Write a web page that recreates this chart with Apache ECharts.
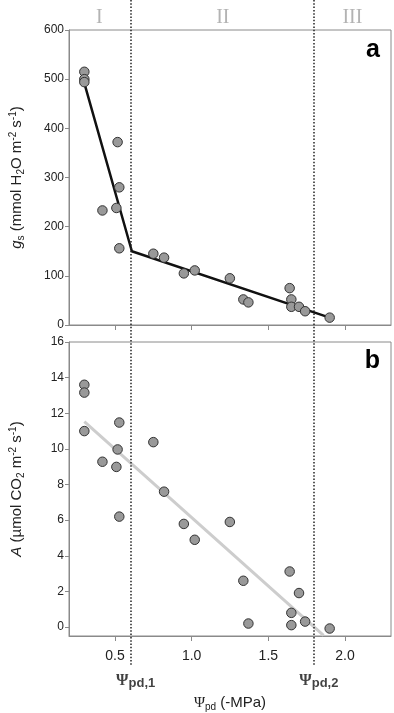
<!DOCTYPE html>
<html><head><meta charset="utf-8">
<script src="https://cdn.jsdelivr.net/npm/echarts@6/dist/echarts.min.js"></script>
<style>html,body{margin:0;padding:0;background:#fff}#c{width:394px;height:713px}</style>
</head><body><div id="c"></div>
<script>
// predawn water potential (-MPa)
const psi = [0.30,0.30,0.30,0.418,0.509,0.517,0.528,0.528,0.75,0.82,0.949,1.02,1.249,1.337,1.37,1.639,1.65,1.65,1.70,1.74,1.90];
// stomatal conductance gs (mmol H2O m-2 s-1)
const gs  = [515,500,494,233,238,372,280,156,145,137,105,111,95,52,46,75,52,37,37,28,15];
// net assimilation A (umol CO2 m-2 s-1)
const A   = [13.6,13.16,11.0,9.28,8.99,9.97,11.48,6.2,10.38,7.6,5.79,4.9,5.9,2.6,0.2,3.12,0.8,0.11,1.91,0.31,-0.08];
// piecewise fit for gs
const gsFitX = [0.30, 0.61, 1.90];
const gsFitY = [492, 150, 15];
// linear fit for A
const aFitX = [0.30, 1.86];
const aFitY = [11.53, -0.47];
// thresholds Psi_pd,1 and Psi_pd,2
const thresholds = [0.613, 1.80];
const thresholdNames = ['1', '2'];
// phases
const phaseLabels = ['I', 'II', 'III'];
const phaseCenters = [0.41, 1.21, 2.05];
// ticks
const xTicks = [0.5, 1.0, 1.5, 2.0];
const gsTicks = [0, 100, 200, 300, 400, 500, 600];
const aTicks = [0, 2, 4, 6, 8, 10, 12, 14, 16];

const GRAY = '#8a8a8a';
const FONT = '"Liberation Sans", Arial, sans-serif';
const SERIF = '"Liberation Serif", "Times New Roman", serif';

const chart = echarts.init(document.getElementById('c'), null, {renderer: 'canvas'});

function xAxisCfg(grid, showLabels) {
  return {
    type: 'value', gridIndex: grid, min: 0.2, max: 2.3,
    axisLine: {show: true, onZero: false, lineStyle: {color: GRAY, width: 1}},
    axisTick: {show: true, length: 5, inside: false, customValues: xTicks, lineStyle: {color: GRAY}},
    axisLabel: {show: showLabels, customValues: xTicks, color: '#222', fontSize: 14, fontFamily: FONT, margin: 13,
      formatter: v => v.toFixed(1)},
    splitLine: {show: false}
  };
}
const richBase = {
  n: {fontSize: 15, fontFamily: FONT, color: '#222', lineHeight: 18},
  i: {fontSize: 15, fontFamily: FONT, color: '#222', fontStyle: 'italic', lineHeight: 18},
  sub: {fontSize: 10, fontFamily: FONT, color: '#222', verticalAlign: 'bottom', lineHeight: 10},
  sup: {fontSize: 10, fontFamily: FONT, color: '#222', verticalAlign: 'top', lineHeight: 10}
};

const pairs = (xs, ys) => xs.map((x, k) => [x, ys[k]]);

const option = {
  animation: false,
  backgroundColor: '#fff',
  grid: [
    {left: 67, right: 3, top: 30, height: 295, show: true, borderColor: GRAY, borderWidth: 1, containLabel: false},
    {left: 67, right: 3, top: 342, height: 295, show: true, borderColor: GRAY, borderWidth: 1, containLabel: false},
    {left: 67, right: 3, top: 0, bottom: 0, show: false}
  ],
  xAxis: [
    xAxisCfg(0, false),
    Object.assign(xAxisCfg(1, true), {
      name: '{psi|Ψ}{sub|pd}{n| (-MPa)}', nameLocation: 'middle', nameGap: 58,
      nameTextStyle: {rich: Object.assign({}, richBase, {psi: {fontSize: 15, fontFamily: SERIF, color: '#222', lineHeight: 18}})}
    }),
    {type: 'value', gridIndex: 2, min: 0.2, max: 2.3, show: false}
  ],
  yAxis: [
    {
      type: 'value', gridIndex: 0, min: 0, max: 600, interval: 100,
      axisLine: {show: true, lineStyle: {color: GRAY}},
      axisTick: {show: true, length: 4, lineStyle: {color: GRAY}},
      axisLabel: {color: '#222', fontSize: 12, fontFamily: FONT, margin: 5},
      splitLine: {show: false},
      name: '{i|g}{sub|s}{n| (mmol H}{sub|2}{n|O m}{sup|-2}{n| s}{sup|-1}{n|)}',
      nameLocation: 'middle', nameGap: 43, nameRotate: 90,
      nameTextStyle: {rich: richBase}
    },
    {
      type: 'value', gridIndex: 1, min: -0.5, max: 16,
      axisLine: {show: true, lineStyle: {color: GRAY}},
      axisTick: {show: true, length: 4, customValues: aTicks, lineStyle: {color: GRAY}},
      axisLabel: {color: '#222', fontSize: 12, fontFamily: FONT, margin: 5, customValues: aTicks},
      splitLine: {show: false},
      name: '{i|A}{n| (µmol CO}{sub|2}{n| m}{sup|-2}{n| s}{sup|-1}{n|)}',
      nameLocation: 'middle', nameGap: 43, nameRotate: 90,
      nameTextStyle: {rich: richBase}
    },
    {type: 'value', gridIndex: 2, min: 0, max: 713, inverse: true, show: false}
  ],
  series: [
    // threshold lines spanning the whole figure
    {
      type: 'line', xAxisIndex: 2, yAxisIndex: 2, data: [], silent: true,
      markLine: {
        symbol: ['none', 'none'], silent: true, label: {show: false},
        lineStyle: {color: '#222', width: 1.5, type: [1.5, 1.8]},
        data: thresholds.map(t => [{coord: [t, 0]}, {coord: [t, 666]}])
      }
    },
    {
      type: 'line', xAxisIndex: 0, yAxisIndex: 0, data: pairs(gsFitX, gsFitY),
      showSymbol: false, lineStyle: {color: '#111', width: 2.5}, silent: true, z: 3
    },
    {
      type: 'line', xAxisIndex: 1, yAxisIndex: 1, data: pairs(aFitX, aFitY),
      showSymbol: false, lineStyle: {color: '#cdcdcd', width: 3}, silent: true, z: 3, clip: true
    },
    {
      type: 'scatter', xAxisIndex: 0, yAxisIndex: 0, data: pairs(psi, gs), symbolSize: 9.5,
      itemStyle: {color: '#999999', borderColor: '#333', borderWidth: 1, opacity: 1}, z: 5
    },
    {
      type: 'scatter', xAxisIndex: 1, yAxisIndex: 1, data: pairs(psi, A), symbolSize: 9.5,
      itemStyle: {color: '#999999', borderColor: '#333', borderWidth: 1, opacity: 1}, z: 5
    },
    // phase labels
    {
      type: 'scatter', xAxisIndex: 2, yAxisIndex: 2, symbolSize: 0, silent: true,
      data: phaseLabels.map((p, k) => ({value: [phaseCenters[k], 18], label: {formatter: p}})),
      label: {show: true, position: 'inside', color: '#a0a0a0', fontSize: 20, fontFamily: SERIF}
    },
    // threshold labels
    {
      type: 'scatter', xAxisIndex: 2, yAxisIndex: 2, symbolSize: 0, silent: true,
      data: thresholds.map((t, k) => ({value: [t, 681],
        label: {formatter: '{psi|Ψ}{sub|pd,' + thresholdNames[k] + '}'}})),
      label: {show: true, position: 'inside', offset: [5, 0],
        rich: {
          psi: {fontSize: 16, fontFamily: SERIF, fontWeight: 'bold', color: '#111', lineHeight: 18},
          sub: {fontSize: 13, fontFamily: FONT, fontWeight: 'bold', color: '#111', verticalAlign: 'bottom', lineHeight: 13}
        }}
    }
  ],
  graphic: [
    {type: 'text', right: 14, top: 38, style: {text: 'a', fontSize: 25, fontWeight: 'bold', fontFamily: FONT, fill: '#000'}},
    {type: 'text', right: 14, top: 349, style: {text: 'b', fontSize: 25, fontWeight: 'bold', fontFamily: FONT, fill: '#000'}}
  ]
};
chart.setOption(option);
</script>
</body></html>
